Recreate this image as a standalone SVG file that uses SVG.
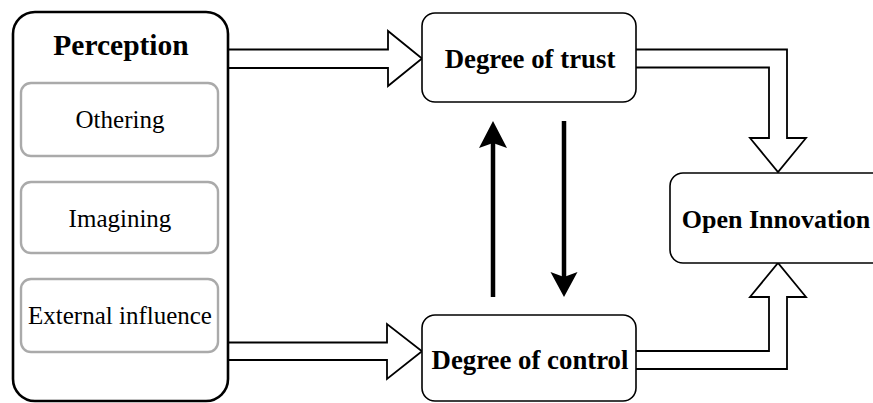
<svg xmlns="http://www.w3.org/2000/svg" width="873" height="403" viewBox="0 0 873 403">
<style>
.box{fill:#fff;stroke:#000;stroke-width:1.6}
.outer{fill:#fff;stroke:#000;stroke-width:2.6}
.inner{fill:#fff;stroke:#aaa;stroke-width:2.4}
.hollow{fill:#fff;stroke:#000;stroke-width:1.8;stroke-linejoin:miter}
.solid{stroke:#000;stroke-width:4.5;fill:none}
.head{fill:#000;stroke:none}
.t{font-family:"Liberation Serif","Times New Roman",serif;text-anchor:middle;fill:#000}
.b{font-weight:bold;font-size:26.8px}
.r{font-size:25px}
</style>
<g id="connectors">
<path class="hollow" d="M228,49.5 H388 V31 L422,58.5 L388,86 V68 H228"/>
<path class="hollow" d="M228,342.5 H387 V324 L422,351.2 L387,379 V360 H228"/>
<path class="hollow" d="M636,49.5 H787 V138 H806 L778,172 L750,138 H769 V67.5 H636"/>
<path class="hollow" d="M636,369 H787 V297 H806 L778,263 L750,297 H769 V351 H636"/>
<line class="solid" x1="493" y1="297" x2="493" y2="140"/>
<path class="head" d="M493,121 L507,148 L493,143 L479,148 Z"/>
<line class="solid" x1="564" y1="121" x2="564" y2="278"/>
<path class="head" d="M564,297 L550.5,272 L564,277 L577.5,272 Z"/>
</g>
<g id="perception">
<rect class="outer" x="13" y="12" width="215" height="389" rx="22"/>
<text class="t" x="121" y="55" font-size="29.5" font-weight="bold">Perception</text>
</g>
<g id="othering">
<rect class="inner" x="21" y="83" width="197" height="73" rx="10"/>
<text class="t r" x="120" y="128">Othering</text>
</g>
<g id="imagining">
<rect class="inner" x="21" y="182" width="197" height="71" rx="10"/>
<text class="t r" x="120" y="227">Imagining</text>
</g>
<g id="external">
<rect class="inner" x="21" y="279" width="197" height="73" rx="10"/>
<text class="t r" x="120" y="324">External influence</text>
</g>
<g id="trust">
<rect class="box" x="422" y="13" width="214" height="89" rx="13"/>
<text class="t b" x="530" y="68">Degree of trust</text>
</g>
<g id="control">
<rect class="box" x="422" y="315" width="214" height="86" rx="13"/>
<text class="t b" x="530" y="369">Degree of control</text>
</g>
<g id="open">
<rect class="box" x="670" y="173" width="215" height="90" rx="13"/>
<text class="t" x="776" y="228" font-size="26" font-weight="bold">Open Innovation</text>
</g>
</svg>
